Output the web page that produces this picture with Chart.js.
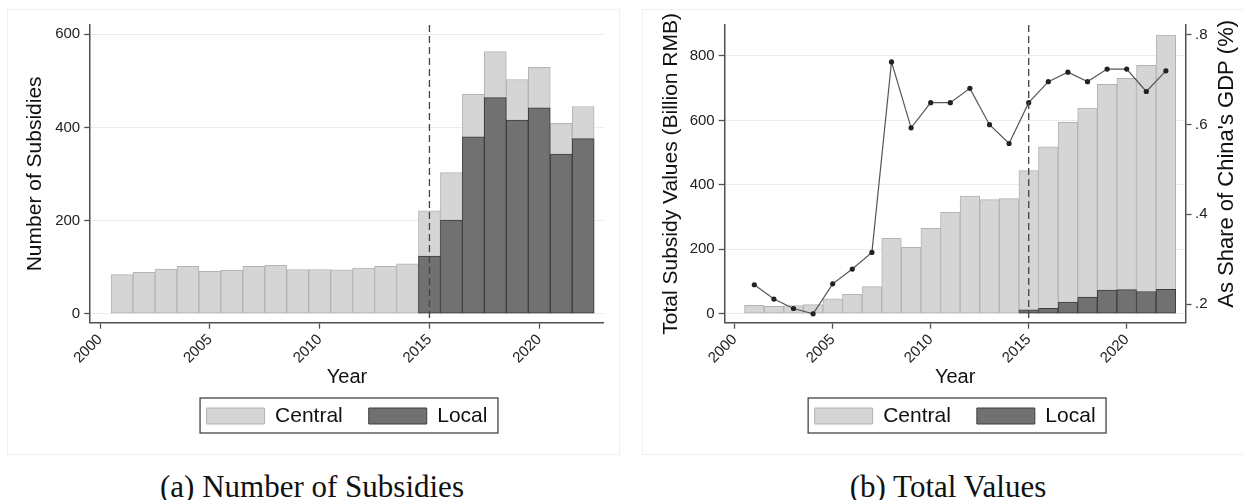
<!DOCTYPE html>
<html>
<head>
<meta charset="utf-8">
<title>Subsidies: counts and values</title>
<script src="https://cdn.jsdelivr.net/npm/chart.js@4.4.1/dist/chart.umd.min.js"></script>
<style>
  body { margin: 0; width: 1244px; height: 500px; background: #fff; position: relative; overflow: hidden; }
  .panel { position: absolute; top: 9px; height: 444px; border: 1px solid #eef1f3; }
  #panelA { left: 7px; width: 611px; }
  #panelB { left: 642px; width: 640px; }
  canvas { position: absolute; }
  #chartA { left: 7px; top: 9px; }
  #chartB { left: 643px; top: 9px; }
  .caption { position: absolute; top: 471px; width: 500px; text-align: center;
             font-family: "Liberation Serif", "DejaVu Serif", serif; font-size: 31px; line-height: 31px; color: #111; }
  #capA { left: 62px; }
  #capB { left: 698px; }
</style>
</head>
<body>
<div class="panel" id="panelA"></div>
<div class="panel" id="panelB"></div>
<canvas id="chartA" width="612" height="460"></canvas>
<canvas id="chartB" width="601" height="460"></canvas>
<div class="caption" id="capA">(a) Number of Subsidies</div>
<div class="caption" id="capB">(b) Total Values</div>

<script>
// values
const years = [2001, 2002, 2003, 2004, 2005, 2006, 2007, 2008, 2009, 2010, 2011,
               2012, 2013, 2014, 2015, 2016, 2017, 2018, 2019, 2020, 2021, 2022];

// (a) number of subsidies (light bar height, dark bar height)
const countCentral = [84, 89, 96, 102, 91, 93, 102, 104, 95, 95, 94,
                      98, 102, 107, 221, 303, 471, 563, 503, 529, 409, 445];
const countLocal = [null, null, null, null, null, null, null, null, null, null, null,
                    null, null, null, 124, 201, 380, 464, 416, 442, 343, 376];

// (b) subsidy values, billion RMB
const valueCentral = [26, 23, 25, 28, 46, 60, 84, 234, 206, 265, 315,
                      365, 354, 357, 444, 518, 594, 638, 712, 731, 771, 865];
const valueLocal = [null, null, null, null, null, null, null, null, null, null, null,
                    null, null, null, 12, 17, 36, 52, 73, 75, 69, 76];

// (b) share of China's GDP, %
const gdpShare = [0.243, 0.211, 0.190, 0.178, 0.245, 0.278, 0.315, 0.740, 0.593, 0.649, 0.649,
                  0.681, 0.600, 0.558, 0.649, 0.696, 0.717, 0.696, 0.724, 0.724, 0.674, 0.720];

const xTicks = [2000, 2005, 2010, 2015, 2020];
const countTicks = [0, 200, 400, 600];
const valueTicks = [0, 200, 400, 600, 800];
const shareTicks = [0.2, 0.4, 0.6, 0.8];
const policyYear = 2015;
const shareTitle = "As Share of China's GDP (%)";

Chart.defaults.font.family = '"Liberation Sans", Arial, sans-serif';
Chart.defaults.color = '#222';
Chart.defaults.animation = false;

const axisColor = '#505050';
const gridColor = '#e8eef0';
const lightFill = '#d5d5d5', lightEdge = '#b3b3b3';
const darkFill = '#717171', darkEdge = '#3d3d3d';

function pairs(xs, ys) {
    return xs.map((x, i) => ({ x: x, y: ys[i] }));
}

// dashed vertical line at the policy year
const policyLine = {
    id: 'policyLine',
    afterDatasetsDraw(chart) {
        const { ctx, chartArea, scales } = chart;
        const x = scales.x.getPixelForValue(policyYear);
        ctx.save();
        ctx.strokeStyle = '#444';
        ctx.lineWidth = 1.3;
        ctx.setLineDash([7, 4]);
        ctx.beginPath();
        ctx.moveTo(x, chartArea.top);
        ctx.lineTo(x, chartArea.bottom);
        ctx.stroke();
        ctx.restore();
    }
};

// frame round the legend items
const legendFrame = {
    id: 'legendFrame',
    afterDraw(chart) {
        const boxes = chart.legend && chart.legend.legendHitBoxes;
        if (!boxes || !boxes.length) return;
        const first = boxes[0], last = boxes[boxes.length - 1];
        const ctx = chart.ctx;
        ctx.save();
        ctx.strokeStyle = '#444';
        ctx.lineWidth = 1.3;
        ctx.strokeRect(first.left - 6.5, first.top - 7.5,
                       last.left + last.width - first.left + 17, first.height + 14);
        ctx.restore();
    }
};

// right-hand axis title, read bottom to top
const rightTitle = {
    id: 'rightTitle',
    afterDraw(chart) {
        const s = chart.scales.y1;
        if (!s) return;
        const { ctx, chartArea } = chart;
        ctx.save();
        ctx.translate(s.right - 17, (chartArea.top + chartArea.bottom) / 2 - 10);
        ctx.rotate(-Math.PI / 2);
        ctx.font = '22px "Liberation Sans", Arial, sans-serif';
        ctx.fillStyle = '#111';
        ctx.textAlign = 'center';
        ctx.textBaseline = 'middle';
        ctx.fillText(shareTitle, 0, 0);
        ctx.restore();
    }
};

function xScale(min, max) {
    return {
        type: 'linear', min: min, max: max, offset: false,
        afterBuildTicks: s => { s.ticks = xTicks.map(v => ({ value: v })); },
        afterFit: s => { s.height = 56.8; },
        grid: { offset: false, drawOnChartArea: false, drawTicks: true, tickLength: 6,
                tickColor: axisColor, tickWidth: 1.3 },
        border: { color: axisColor, width: 1.5 },
        ticks: { minRotation: 45, maxRotation: 45, padding: 2, font: { size: 15 }, color: '#222',
                 callback: v => String(v) },
        title: { display: true, text: 'Year', font: { size: 20 }, color: '#111',
                 padding: { top: 0, bottom: -10 } }
    };
}

function yScale(min, max, ticks, titleText, width) {
    return {
        type: 'linear', position: 'left', min: min, max: max,
        afterBuildTicks: s => { s.ticks = ticks.map(v => ({ value: v })); },
        afterFit: s => { s.width = width; },
        grid: { color: gridColor, lineWidth: 1, drawTicks: true, tickLength: 6, tickColor: axisColor, tickWidth: 1.3 },
        border: { color: axisColor, width: 1.5 },
        ticks: { padding: 4, font: { size: 15 }, color: '#222', callback: v => String(v) },
        title: { display: true, text: titleText, font: { size: 21 }, color: '#111',
                 padding: { top: 16, bottom: 0 } }
    };
}

function barSet(label, xs, ys, fill, edge, order) {
    return {
        label: label, data: pairs(xs, ys),
        backgroundColor: fill, borderColor: edge, borderWidth: 1, borderSkipped: false,
        grouped: false, order: order, barPercentage: 1, categoryPercentage: 1
    };
}

const legendOptions = {
    position: 'bottom', fullSize: false,
    labels: { boxWidth: 58, boxHeight: 16, padding: 26, font: { size: 21 }, color: '#111',
              filter: item => item.datasetIndex < 2,
              sort: (a, b) => a.datasetIndex - b.datasetIndex }
};

// (a) Number of subsidies
new Chart(document.getElementById('chartA'), {
    type: 'bar',
    data: {
        datasets: [
            barSet('Central', years, countCentral, lightFill, lightEdge, 2),
            barSet('Local', years, countLocal, darkFill, darkEdge, 1)
        ]
    },
    options: {
        responsive: false, devicePixelRatio: 1,
        layout: { padding: { top: 16, left: 0, right: 15.2, bottom: 32.5 } },
        scales: {
            x: xScale(1999.55, 2022.94),
            y: yScale(-19.3, 620, countTicks, 'Number of Subsidies', 83.2)
        },
        plugins: { legend: legendOptions, tooltip: { enabled: false } }
    },
    plugins: [policyLine, legendFrame]
});

// (b) Total values with share of GDP
const shareAxis = {
    type: 'linear', position: 'right', min: 0.1583, max: 0.8223,
    afterBuildTicks: s => { s.ticks = shareTicks.map(v => ({ value: v })); },
    afterFit: s => { s.width = 58.5; },
    grid: { drawOnChartArea: false, drawTicks: true, tickLength: 6, tickColor: axisColor, tickWidth: 1.3 },
    border: { color: axisColor, width: 1.5 },
    ticks: { padding: 3.5, font: { size: 15 }, color: '#222',
             callback: v => v.toFixed(1).replace(/^0/, '') },
    title: { display: false }
};

new Chart(document.getElementById('chartB'), {
    type: 'bar',
    data: {
        datasets: [
            barSet('Central', years, valueCentral, lightFill, lightEdge, 2),
            barSet('Local', years, valueLocal, darkFill, darkEdge, 1),
            {
                type: 'line', label: 'Share of GDP', data: pairs(years, gdpShare), yAxisID: 'y1',
                borderColor: '#555', borderWidth: 1.2, tension: 0,
                pointRadius: 2.6, pointBackgroundColor: '#222', pointBorderColor: '#222', pointBorderWidth: 0,
                order: 0
            }
        ]
    },
    options: {
        responsive: false, devicePixelRatio: 1,
        layout: { padding: { top: 16, left: 0, right: 0, bottom: 32.5 } },
        scales: {
            x: xScale(1999.49, 2023.0),
            y: yScale(-27.9, 896.2, valueTicks, 'Total Subsidy Values (Billion RMB)', 81.7),
            y1: shareAxis
        },
        plugins: { legend: legendOptions, tooltip: { enabled: false } }
    },
    plugins: [policyLine, legendFrame, rightTitle]
});
</script>
</body>
</html>
